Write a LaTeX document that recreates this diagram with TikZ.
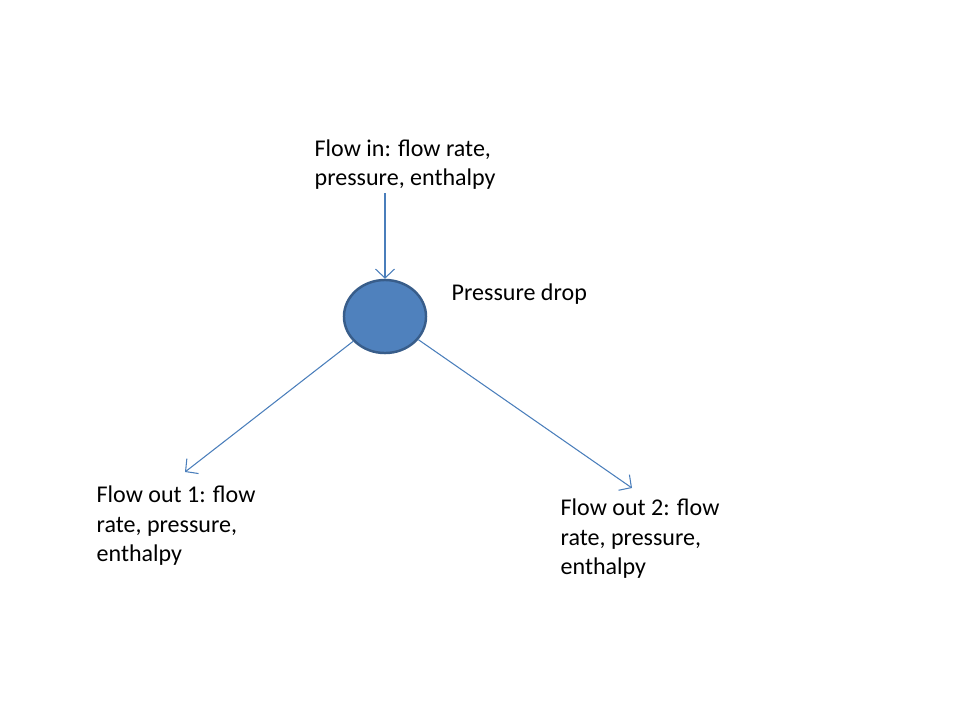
\documentclass[tikz,border=0pt]{standalone}
\usepackage{fontspec}
\setmainfont{Carlito}
\usetikzlibrary{arrows.meta,shapes.geometric}
\definecolor{vulblauw}{HTML}{4F81BD}
\definecolor{randblauw}{HTML}{385D8A}
\definecolor{pijlblauw}{HTML}{4A7EBB}
\tikzset{
  tekst/.style={anchor=base west, inner sep=0pt, align=left,
    font=\fontsize{6.83}{8.25}\selectfont},
  stroom/.style={->, draw=pijlblauw, line width=0.3pt}
}
\begin{document}
\begin{tikzpicture}[x=0.01cm, y=-0.01cm,
    >={Straight Barb[length=0.9mm, width=1.9mm, line width=0.3pt]}]

  \useasboundingbox (0,0) rectangle (960,720);

  % Knooppunt
  \node[ellipse, minimum width=0.82cm, minimum height=0.73cm, inner sep=0pt,
    fill=vulblauw, draw=randblauw, line width=0.7pt] (pd) at (385,316.5) {};
  \node[tekst] (pdlabel) at (451,300) {Pressure drop};

  % Teksten (basislijn van de laatste regel)
  \node[tekst] (in) at (314,185) {Flow in: flow rate,\\pressure, enthalpy};
  \node[tekst] (uit1) at (96,561) {Flow out 1: flow\\rate, pressure,\\enthalpy};
  \node[tekst] (uit2) at (560,574) {Flow out 2: flow\\rate, pressure,\\enthalpy};

  % Pijlen
  \coordinate (inbegin) at (385,193);
  \coordinate (uit1eind) at (185,472);
  \coordinate (uit2eind) at (632,488);

  \draw[stroom] (inbegin) -- (pd.north);
  \draw[stroom] (pd) -- (uit1eind);
  \draw[stroom] (pd) -- (uit2eind);

\end{tikzpicture}
\end{document}
